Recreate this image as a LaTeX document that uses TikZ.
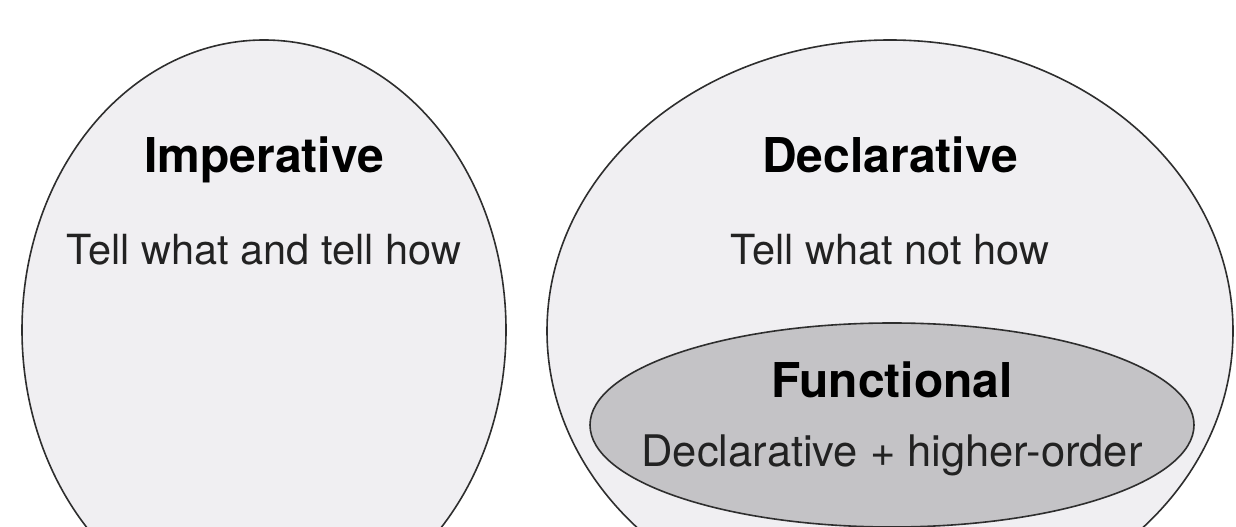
\documentclass[tikz,border=0pt]{standalone}
\usepackage{fontspec}
\setmainfont{TeX Gyre Heros}
\usepackage{tikz}
\usetikzlibrary{shapes.geometric}
\definecolor{setfill}{HTML}{F0EFF2}
\definecolor{subfill}{HTML}{C4C3C6}
\definecolor{setline}{HTML}{2E2E2E}
\definecolor{notetext}{HTML}{222222}

\tikzset{
  paradigm/.style={ellipse,draw=setline,line width=1.6pt,fill=setfill,inner sep=0pt},
  subparadigm/.style={paradigm,fill=subfill},
  title/.style={anchor=base,font=\bfseries\fontsize{48}{50}\selectfont},
  note/.style={anchor=base,text=notetext,font=\fontsize{41.5}{44}\selectfont}
}

\begin{document}
\begin{tikzpicture}[x=1pt,y=1pt]
\useasboundingbox (0,0) rectangle (1236,527);
\clip (0,0) rectangle (1236,527);
% outer sets
\node[paradigm,minimum width=484pt,minimum height=580pt] (imperative) at (264,197) {};
\node[paradigm,minimum width=686pt,minimum height=582pt] (declarative) at (890,196) {};
% functional inside declarative
\node[subparadigm,minimum width=604pt,minimum height=204pt] (functional) at (892,102) {};
% labels
\node[title] (imptitle) at (264,354) {Imperative};
\node[note] (impnote) at (264,262) {Tell what and tell how};
\node[title] (dectitle) at (890,354) {Declarative};
\node[note] (decnote) at (890,262) {Tell what not how};
\node[title] (funtitle) at (892,129) {Functional};
\node[note,font=\fontsize{43.5}{46}\selectfont] (funnote) at (892,60) {Declarative + higher-order};
\end{tikzpicture}
\end{document}
